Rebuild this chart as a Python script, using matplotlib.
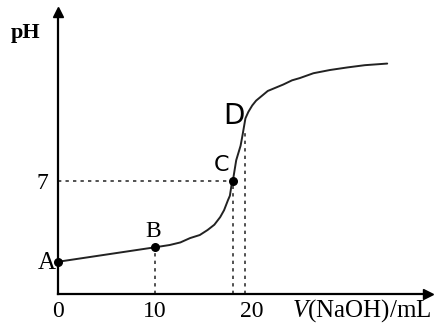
"""Titration curve: pH vs volume of NaOH added."""

import matplotlib
matplotlib.use("Agg")
import matplotlib.pyplot as plt

plt.rcParams["font.family"] = ["Liberation Serif", "DejaVu Serif"]
plt.rcParams["mathtext.fontset"] = "custom"
plt.rcParams["mathtext.rm"] = "Liberation Serif"
plt.rcParams["mathtext.it"] = "Liberation Serif:italic"

# curve read as (V NaOH / mL, pH)
vol = [0.0, 10.0, 11.5, 12.6, 13.6, 14.6, 15.4, 16.1, 16.7, 17.1, 17.5,
       17.7, 17.9, 18.0, 18.35, 18.8, 19.0, 19.3, 19.6, 20.0, 20.4, 21.0,
       21.6, 22.4, 23.2, 24.1, 24.9, 26.3, 28.0, 29.8, 31.6, 33.9]
ph = [2.0, 2.9, 3.04, 3.2, 3.47, 3.66, 3.97, 4.3, 4.77, 5.2, 5.82,
      6.1, 6.88, 7.0, 8.3, 9.2, 9.85, 10.9, 11.3, 11.7, 12.0, 12.3,
      12.6, 12.8, 13.0, 13.26, 13.4, 13.7, 13.9, 14.06, 14.2, 14.3]

# labelled points
pt_names = ["A", "B", "C", "D"]
pt_vol = [0.0, 10.0, 18.0, 19.3]
pt_ph = [2.0, 2.9, 7.0, 10.0]

x_ticks = [0, 10, 20]
y_ticks = [7]

fig = plt.figure(figsize=(4.38, 3.26), dpi=100)
ax = fig.add_axes([58 / 438, 32 / 326, 370 / 438, 282 / 326])
ax.set_xlim(0, 38.1)
ax.set_ylim(0, 17.5)

for s in ("top", "right"):
    ax.spines[s].set_visible(False)
for s in ("left", "bottom"):
    ax.spines[s].set_linewidth(1.6)
ax.plot(1, 0, ">k", ms=7, transform=ax.transAxes, clip_on=False)
ax.plot(0, 1, "^k", ms=7, transform=ax.transAxes, clip_on=False)

ax.plot(vol, ph, color="#222222", lw=1.4, solid_capstyle="round",
        solid_joinstyle="round")

# guide lines
dot = dict(color="#333333", lw=1.2, ls=(0, (2, 2.5)))
ax.plot([0, pt_vol[2]], [pt_ph[2], pt_ph[2]], **dot)
for v, p in zip(pt_vol[1:], pt_ph[1:]):
    ax.plot([v, v], [0, p], **dot)

ax.scatter(pt_vol[:3], pt_ph[:3], s=30, color="black", zorder=5, clip_on=False)

ax.text(-0.2, pt_ph[0] - 0.1, pt_names[0], fontsize=18, ha="right", va="center")
ax.text(pt_vol[1] - 0.2, pt_ph[1] + 0.35, pt_names[1], fontsize=17,
        ha="center", va="bottom")
ax.text(pt_vol[2] - 0.4, pt_ph[2] + 0.4, pt_names[2], fontsize=16, ha="right",
        va="bottom", family="DejaVu Sans")
ax.text(pt_vol[3] - 0.1, pt_ph[3] + 0.2, pt_names[3], fontsize=20, ha="right",
        va="bottom", family="DejaVu Sans")

ax.set_xticks(x_ticks)
ax.set_yticks(y_ticks)
ax.tick_params(length=0, labelsize=17, pad=5)
ax.tick_params(axis="y", pad=7)

ax.text(-3.3, 16.2, "pH", fontsize=16, fontweight="bold", ha="center",
        va="center")
ax.text(24.1, -1.43, "$\\it{V}$(NaOH)/mL", fontsize=18, ha="left",
        va="baseline", clip_on=False)

fig.savefig("out.png", dpi=100)
